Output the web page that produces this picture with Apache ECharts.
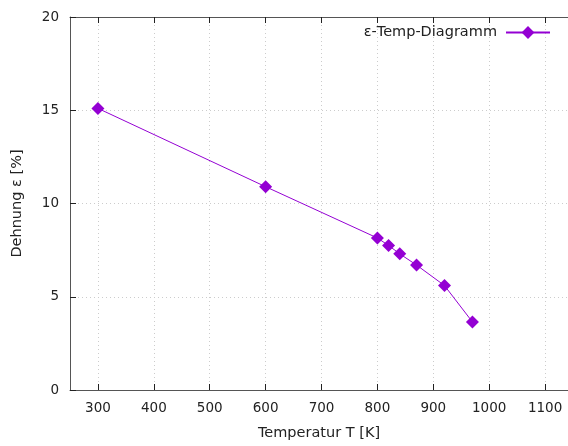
<!DOCTYPE html>
<html>
<head>
<meta charset="utf-8">
<script src="https://cdn.jsdelivr.net/npm/echarts@6/dist/echarts.min.js"></script>
<style>html,body{margin:0;padding:0;background:#fff}#c{width:568px;height:446px}</style>
</head>
<body>
<div id="c"></div>
<script>
const temperatures = [300, 600, 800, 820, 840, 870, 920, 970];
const strains = [15.1, 10.9, 8.15, 7.75, 7.3, 6.7, 5.6, 3.65];
const seriesName = 'ε-Temp-Diagramm';
const xTicks = [300, 400, 500, 600, 700, 800, 900, 1000, 1100];
const yTicks = [0, 5, 10, 15, 20];

const chart = echarts.init(document.getElementById('c'), null, {renderer: 'canvas'});
const font = 'DejaVu Sans';
const color = '#9400D3';
const axisCol = '#555';
const txt = '#222';
chart.setOption({
  animation: false,
  grid: {left: 70, top: 17, bottom: 54, right: 0, containLabel: false},
  legend: {
    data: [seriesName], right: 12, top: 20, align: 'right',
    itemWidth: 44, itemHeight: 16, itemGap: 0,
    textStyle: {fontFamily: font, fontSize: 14.5, color: txt, padding: [0, 4, 0, 0]}
  },
  xAxis: [{
    type: 'value', min: 250, max: 1141,
    name: 'Temperatur T [K]', nameLocation: 'middle', nameGap: 36,
    nameTextStyle: {fontFamily: font, fontSize: 14.5, color: txt},
    axisLine: {show: true, lineStyle: {color: axisCol, width: 1}},
    axisTick: {show: true, inside: true, length: 6, lineStyle: {color: txt}, customValues: xTicks},
    axisLabel: {fontFamily: font, fontSize: 13.5, color: txt, margin: 11, customValues: xTicks,
      formatter: v => String(v)},
    splitLine: {show: true, lineStyle: {color: '#ccc', type: [1, 3], width: 1}}
  }, {
    type: 'value', position: 'top', min: 250, max: 1141,
    axisLine: {show: true, lineStyle: {color: axisCol, width: 1}},
    axisTick: {show: true, inside: true, length: 6, lineStyle: {color: txt}, customValues: xTicks},
    axisLabel: {show: false}, splitLine: {show: false}
  }],
  yAxis: [{
    type: 'value', min: 0, max: 20, interval: 5,
    name: 'Dehnung ε [%]', nameLocation: 'middle', nameGap: 45,
    nameTextStyle: {fontFamily: font, fontSize: 14.5, color: txt},
    axisLine: {show: true, lineStyle: {color: axisCol, width: 1}},
    axisTick: {show: true, inside: true, length: 6, lineStyle: {color: txt}, customValues: yTicks},
    axisLabel: {fontFamily: font, fontSize: 13.5, color: txt, margin: 11, customValues: yTicks,
      formatter: v => String(v)},
    splitLine: {show: true, lineStyle: {color: '#ccc', type: [1, 3], width: 1}}
  }],
  series: [{
    name: seriesName, type: 'line',
    data: temperatures.map((t, i) => [t, strains[i]]),
    symbol: 'diamond', symbolSize: 13, showAllSymbol: true,
    lineStyle: {color: color, width: 1},
    itemStyle: {color: color, borderWidth: 0}
  }]
});
</script>
</body>
</html>
